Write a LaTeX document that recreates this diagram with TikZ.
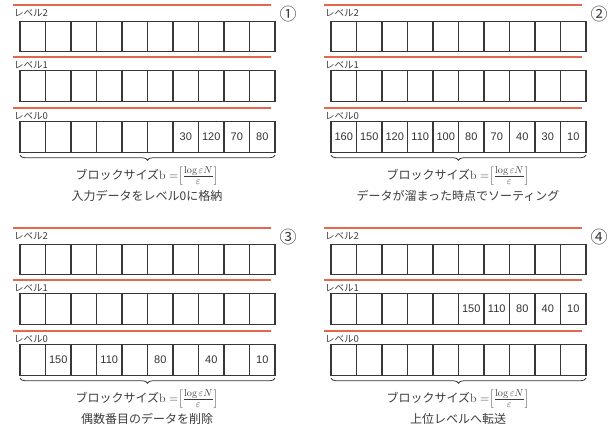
\documentclass[tikz,border=0pt]{standalone}
\usepackage{fontspec}
\usetikzlibrary{decorations.pathreplacing}
\newfontfamily\jpfont{Noto Sans CJK JP}
\newfontfamily\numfont{Liberation Sans}
\definecolor{redln}{RGB}{226,104,78}
\definecolor{boxln}{RGB}{55,55,55}
\definecolor{txt}{RGB}{60,60,60}
\tikzset{
  redline/.style={draw=redln,line width=1.4pt},
  cell/.style={draw=boxln,line width=1.1pt,minimum width=25.5pt,minimum height=30.5pt,inner sep=0pt,outer sep=0pt},
  lvl/.style={anchor=west,inner sep=0pt,text=txt,font=\jpfont\fontsize{9.5}{9.5}\selectfont},
  numtxt/.style={inner sep=0pt,text=black!80,font=\numfont\fontsize{11}{11}\selectfont},
  captxt/.style={inner sep=0pt,text=txt,font=\jpfont\fontsize{12}{12}\selectfont},
  circtxt/.style={inner sep=0pt,text=txt,font=\jpfont\fontsize{17}{17}\selectfont},
  bracestyle/.style={draw=boxln,line width=0.8pt,decorate,decoration={brace,mirror,amplitude=5pt,raise=3pt}}
}
\newcommand{\blockformula}{$\mathrm{b}=${\fontsize{14.5}{14.5}\selectfont$\left[\frac{\log\varepsilon N}{\varepsilon}\right]$}}
\newcommand{\drawpanel}[5]{%
  \begin{scope}[shift={(#2,#3)}]
    \draw[redline] (13,5) -- (271,5);
    \draw[redline] (13,57) -- (271,57);
    \draw[redline] (13,108) -- (271,108);
    \node[lvl] (#1-l2) at (14,13.5) {レベル2};
    \node[lvl] (#1-l1) at (14,65) {レベル1};
    \node[lvl] (#1-l0) at (14,116) {レベル0};
    \foreach \r/\yy in {2/36.5,1/86,0/137}{
      \foreach \c in {1,...,10}{
        \node[cell] (#1-r\r-c\c) at ({20+25.5*(\c-0.5)},\yy) {};
      }
    }
    \draw[bracestyle] (#1-r0-c1.south west) -- (#1-r0-c10.south east);
    \node[captxt] (#1-cap1) at (147,176) {ブロックサイズ\blockformula};
    \node[captxt] (#1-cap2) at (147,196) {#5};
    \node[circtxt] (#1-circ) at (288,14) {#4};
  \end{scope}}
\begin{document}
\begin{tikzpicture}[x=1pt,y=-1pt]
  \useasboundingbox[fill=white] (0,0) rectangle (615,427);
  \drawpanel{pa}{0}{0}{①}{入力データをレベル0に格納}
  \drawpanel{pb}{311}{0}{②}{データが溜まった時点でソーティング}
  \drawpanel{pc}{0}{223}{③}{偶数番目のデータを削除}
  \drawpanel{pd}{311}{223}{④}{上位レベルへ転送}
  % panel 1 values
  \foreach \c/\v in {7/30,8/120,9/70,10/80}{\node[numtxt] at (pa-r0-c\c) {\v};}
  % panel 2 values
  \foreach \c/\v in {1/160,2/150,3/120,4/110,5/100,6/80,7/70,8/40,9/30,10/10}{\node[numtxt] at (pb-r0-c\c) {\v};}
  % panel 3 values
  \foreach \c/\v in {2/150,4/110,6/80,8/40,10/10}{\node[numtxt] at (pc-r0-c\c) {\v};}
  % panel 4 values
  \foreach \c/\v in {6/150,7/110,8/80,9/40,10/10}{\node[numtxt] at (pd-r1-c\c) {\v};}
\end{tikzpicture}
\end{document}
